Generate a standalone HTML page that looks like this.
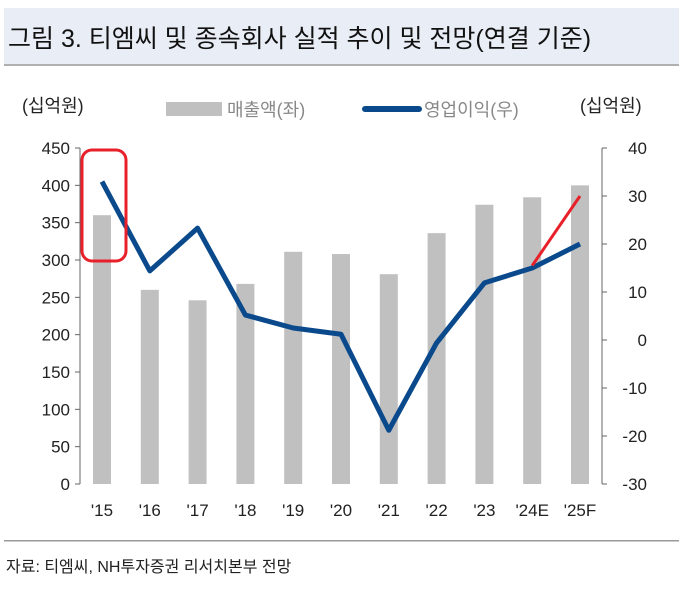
<!DOCTYPE html>
<html><head><meta charset="utf-8"><style>
body{margin:0;width:683px;height:589px;background:#fff;font-family:"Liberation Sans","Noto Sans CJK KR",sans-serif;overflow:hidden}
</style></head><body>
<svg width="683" height="589" xmlns="http://www.w3.org/2000/svg" font-family="Liberation Sans, Noto Sans CJK KR, sans-serif">
<rect x="4" y="8" width="675" height="56" fill="#e9eef6"/>
<rect x="4" y="64" width="675" height="2" fill="#b0b0b0"/>
<text x="8" y="47" font-size="25" fill="#111">그림 3.  티엠씨 및 종속회사 실적 추이 및 전망(연결 기준)</text>
<text x="22" y="112" font-size="18" fill="#222">(십억원)</text>
<text x="580" y="112" font-size="18" fill="#222">(십억원)</text>
<g>
<rect x="166" y="102" width="56" height="14" fill="#c0c0c0"/>
<text x="227" y="116" font-size="18" fill="#888">매출액(좌)</text>
<rect x="362" y="106" width="60" height="6" rx="3" fill="#0a4a8c"/>
<text x="424" y="116" font-size="18" fill="#888">영업이익(우)</text>
</g>
<g id="chart"></g>
<rect x="4" y="540" width="675" height="1.5" fill="#999"/>
<text x="6" y="572" font-size="16" fill="#222">자료: 티엠씨, NH투자증권 리서치본부 전망</text>
</svg>
<script>
const categories=["'15","'16","'17","'18","'19","'20","'21","'22","'23","'24E","'25F"];
const revenue=[360,260,246,268,311,308,281,336,374,384,400];
const opProfit=[33,14.4,23.3,5.2,2.5,1.2,-18.8,-0.6,11.9,15,20];
const redForecast=[15.5,30];
const leftTicks=[0,50,100,150,200,250,300,350,400,450];
const rightTicks=[-30,-20,-10,0,10,20,30,40];
(function(){
const NS="http://www.w3.org/2000/svg";
const g=document.getElementById('chart');
const yTop=148,yBot=484,xl=80,xr=602;
const yL=v=>yBot-(v/450)*(yBot-yTop);
const yR=v=>yBot-((v+30)/70)*(yBot-yTop);
const xC=i=>102+i*47.8;
function mk(t,a){const e=document.createElementNS(NS,t);for(const k in a)e.setAttribute(k,a[k]);g.appendChild(e);return e;}
let e=mk('line',{x1:xl,y1:yTop,x2:xl,y2:yBot,stroke:'#666'});


e=mk('line',{x1:xr,y1:yTop,x2:xr,y2:yBot,stroke:'#666'});


leftTicks.forEach(v=>{
 let t=mk('line',{x1:xl-5,y1:yL(v),x2:xl,y2:yL(v),stroke:'#666'});
 
 
 let l=mk('text',{x:xl-10,y:yL(v)+6,'font-size':17,'text-anchor':'end',fill:'#222'});l.textContent=v;
 
 
});
rightTicks.forEach(v=>{
 let t=mk('line',{x1:xr,y1:yR(v),x2:xr+5,y2:yR(v),stroke:'#666'});
 
 
 let l=mk('text',{x:xr+45,y:yR(v)+6,'font-size':17,'text-anchor':'end',fill:'#222'});l.textContent=v;
 
 
});
categories.forEach((c,i)=>{
 let b=mk('rect',{x:xC(i)-9,y:yL(revenue[i]),width:18,height:yBot-yL(revenue[i]),fill:'#c0c0c0'});
 
 
 let l=mk('text',{x:xC(i),y:516,'font-size':17,'text-anchor':'middle',fill:'#222'});l.textContent=c;
 
 
});
let p=mk('polyline',{points:opProfit.map((v,i)=>xC(i)+','+yR(v)).join(' '),fill:'none',stroke:'#0a4a8c','stroke-width':5,'stroke-linejoin':'round'});


let r=mk('line',{x1:xC(9),y1:yR(redForecast[0]),x2:xC(10),y2:yR(redForecast[1]),stroke:'#e8202a','stroke-width':3});


let h=mk('rect',{x:82,y:150,width:44,height:111,rx:10,fill:'none',stroke:'#e8202a','stroke-width':3});


})();
</script>
</body></html>
